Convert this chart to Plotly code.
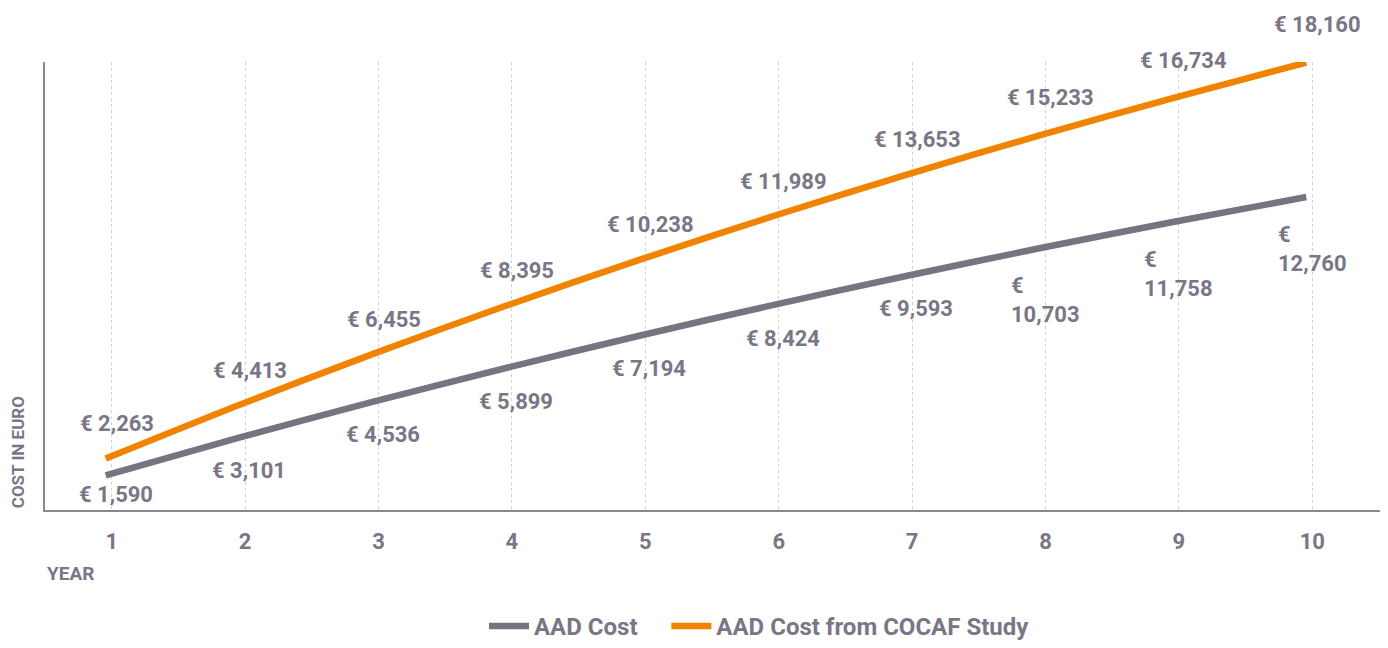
import plotly.graph_objects as go

years = [1, 2, 3, 4, 5, 6, 7, 8, 9, 10]
aad_cost = [1590, 3101, 4536, 5899, 7194, 8424, 9593, 10703, 11758, 12760]
cocaf_cost = [2263, 4413, 6455, 8395, 10238, 11989, 13653, 15233, 16734, 18160]

GREY = "#77737f"
ORANGE = "#f08300"
TEXT = "#7a7686"
FONT = "Roboto"
X_RANGE = [0.5, 10.53]


def euro(v, split=False):
    s = "{:,}".format(v)
    return "€<br>" + s if split else "€ " + s


fig = go.Figure()

# empty trace so the main year axis (grid + ticks) gets drawn
fig.add_trace(go.Scatter(x=[], y=[], showlegend=False, hoverinfo="skip"))

# the lines sit a few pixels left of the year gridlines in the original
fig.add_trace(go.Scatter(
    x=years, y=aad_cost, name="AAD Cost\u00a0\u00a0\u00a0\u00a0", mode="lines",
    line=dict(color=GREY, width=6.5, shape="spline", smoothing=0.8),
    xaxis="x2", hoverinfo="skip",
))
fig.add_trace(go.Scatter(
    x=years, y=cocaf_cost, name="AAD Cost from COCAF Study", mode="lines",
    line=dict(color=ORANGE, width=6.5, shape="spline", smoothing=0.8),
    xaxis="x2", hoverinfo="skip",
))

label_font = dict(family=FONT, size=22, color=TEXT, weight="bold")

# value labels: orange above the line, grey below
for i, (x, v) in enumerate(zip(years, cocaf_cost)):
    fig.add_annotation(
        x=x, y=v, text=euro(v), showarrow=False,
        xshift=5, yshift=35 if i < 7 else 38, font=label_font,
    )

for i, (x, v) in enumerate(zip(years, aad_cost)):
    split = i >= 7
    if i == 0:
        dy = -19
    elif split:
        dy = -52
    else:
        dy = -33
    fig.add_annotation(
        x=x, y=v, text=euro(v, split), showarrow=False, align="left",
        xshift=4 if not split else 0, yshift=dy, font=label_font,
    )

# axis titles
fig.add_annotation(
    text="YEAR", xref="paper", yref="paper", x=0, y=-0.141,
    xanchor="left", yanchor="middle", showarrow=False,
    font=dict(family=FONT, size=19, color=TEXT, weight="bold"),
)
fig.add_annotation(
    text="COST IN EURO", xref="paper", yref="paper", x=-0.02, y=0,
    xanchor="center", yanchor="bottom", textangle=-90, showarrow=False,
    font=dict(family=FONT, size=17, color=TEXT, weight="bold"),
)

# page body adds an 8px margin, so the figure is 8px smaller and margins shifted
fig.update_layout(
    width=1380, height=640,
    margin=dict(l=37, r=5, t=54, b=138, autoexpand=False),
    plot_bgcolor="white", paper_bgcolor="white",
    font=dict(family=FONT, color=TEXT),
    showlegend=True,
    legend=dict(
        orientation="h", x=0.534, xanchor="center", y=-0.31, yanchor="bottom",
        font=dict(family=FONT, size=24, color=TEXT, weight="bold"),
        itemwidth=40, tracegroupgap=0,
    ),
    xaxis=dict(
        range=X_RANGE, tickvals=years, showgrid=True,
        gridcolor="#d2d2d2", griddash="dot", gridwidth=1,
        showline=True, linecolor="#8a8793", linewidth=2,
        zeroline=False, ticks="", ticklabelstandoff=11, automargin=False,
        tickfont=dict(family=FONT, size=22, color=TEXT, weight="bold"),
    ),
    xaxis2=dict(
        range=[X_RANGE[0] + 0.045, X_RANGE[1] + 0.045], overlaying="x",
        visible=False, showgrid=False, zeroline=False,
    ),
    yaxis=dict(
        range=[200, 18180], showgrid=False, showticklabels=False,
        showline=True, linecolor="#8a8793", linewidth=2,
        zeroline=False, ticks="", automargin=False,
    ),
)

fig.write_html("out.html")
